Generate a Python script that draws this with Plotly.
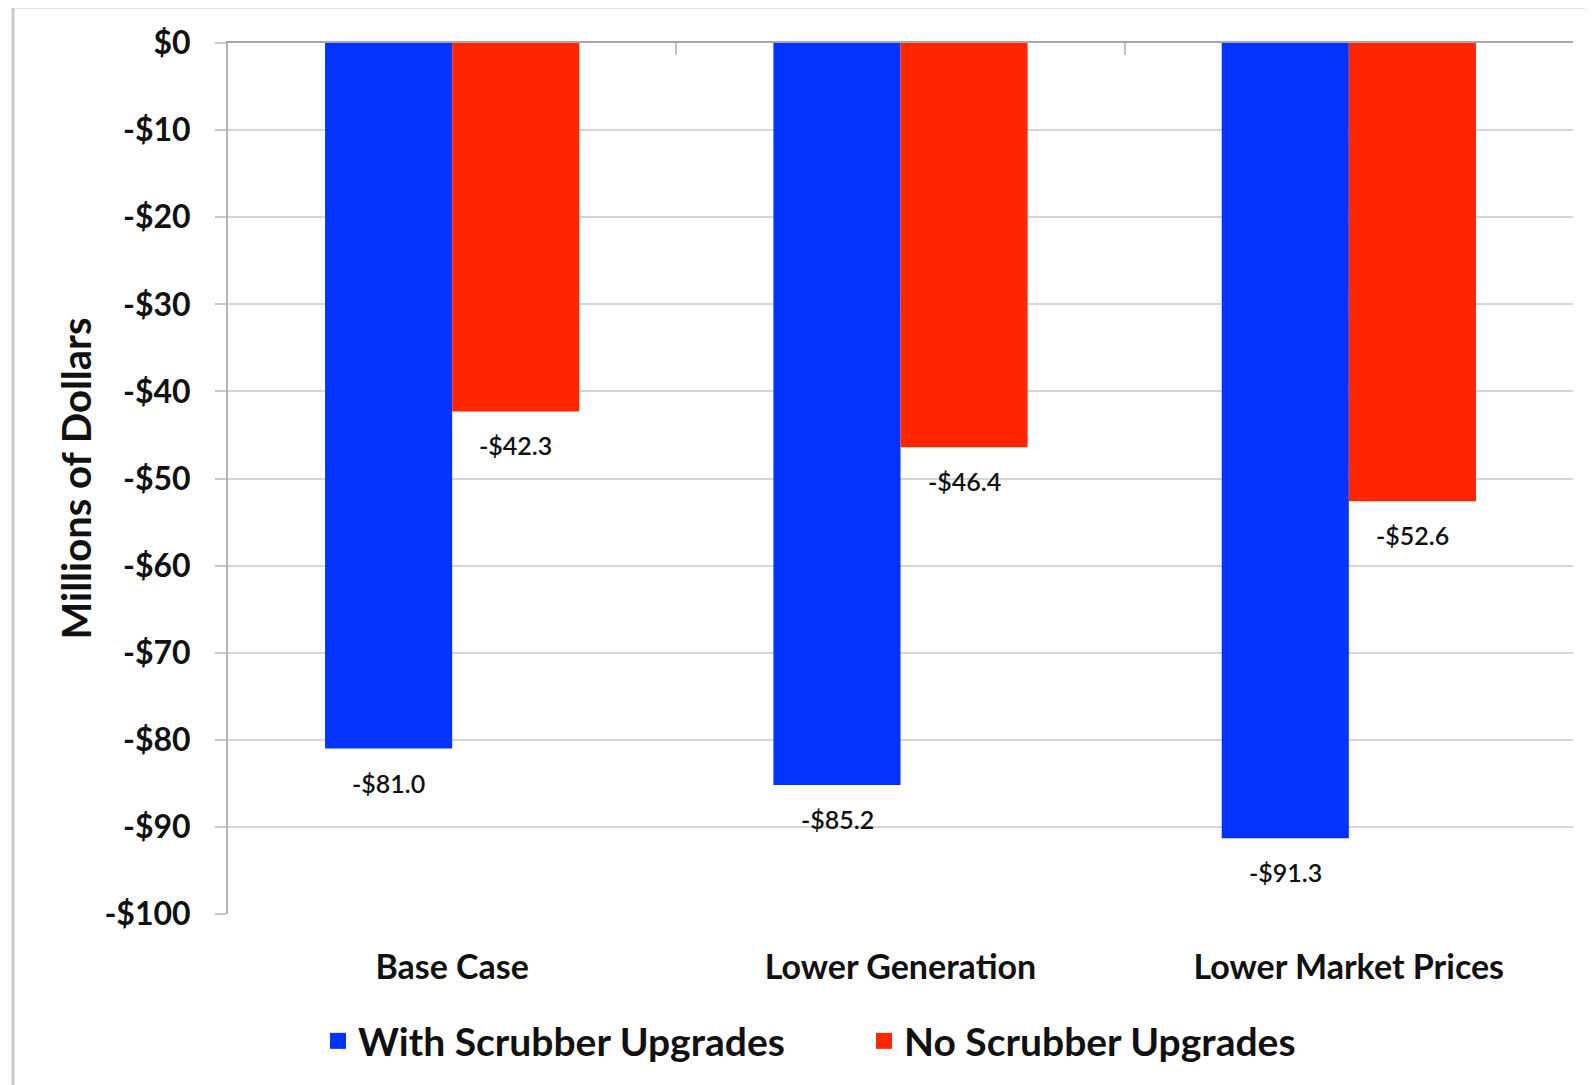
import plotly.graph_objects as go

categories = ["Base Case", "Lower Generation", "Lower Market Prices"]
with_scrubber = [-81.0, -85.2, -91.3]
no_scrubber = [-42.3, -46.4, -52.6]
series_names = ["With Scrubber Upgrades", "No Scrubber Upgrades"]
tick_values = [0, -10, -20, -30, -40, -50, -60, -70, -80, -90, -100]
tick_labels = ["$0", "-$10", "-$20", "-$30", "-$40", "-$50", "-$60", "-$70", "-$80", "-$90", "-$100"]

BLUE = "#0433ff"
RED = "#ff2600"
FONT = "Lato"

fig = go.Figure()
for name, vals, col in [(series_names[0], with_scrubber, BLUE), (series_names[1], no_scrubber, RED)]:
    fig.add_trace(go.Bar(x=categories, y=vals, name=name, marker=dict(color=col, line=dict(width=0)),
                         showlegend=False))
# legend entries
for name, col in [(series_names[0], BLUE), (series_names[1], RED)]:
    fig.add_trace(go.Scatter(x=[None], y=[None], mode="markers", name=name,
                             marker=dict(symbol="square", size=22, color=col)))

def money(v):
    return ("-" if v < 0 else "") + "$" + f"{abs(v):.1f}"

annotations = []
for vals, shift in [(with_scrubber, -63.5), (no_scrubber, 63.5)]:
    for c, v in zip(categories, vals):
        annotations.append(dict(x=c, y=v, xref="x", yref="y", text=money(v), showarrow=False,
                                xshift=shift, yshift=-34,
                                font=dict(family=FONT, size=25, color="#111111", weight=600)))

OFF = 8  # page body margin
L, R, T, B = 220, 20, 35, 171
pw, ph = 1345, 871
W, H = L + pw + R, T + ph + B

fig.update_layout(
    width=W, height=H,
    margin=dict(l=L, r=R, t=T, b=B, pad=0),
    paper_bgcolor="white", plot_bgcolor="white",
    barmode="group", bargap=0.433, bargroupgap=0,
    font=dict(family=FONT, color="#111111"),
    xaxis=dict(type="category", range=[-0.5, 2.5], showgrid=False, showline=False, ticks="",
               zeroline=False, tickfont=dict(family=FONT, size=34, weight="bold", color="#111111"),
               ticklabelstandoff=30),
    xaxis2=dict(overlaying="x", side="top", anchor="y", range=[-0.5, 2.5], showgrid=False,
                showline=True, linecolor="#a8a8a8", linewidth=2, ticks="inside", ticklen=12,
                tickwidth=2, tickcolor="#c0c0c0", tickvals=[-0.5, 0.5, 1.5, 2.5],
                showticklabels=False, zeroline=False),
    yaxis=dict(range=[-100, 0], tickvals=tick_values, ticktext=tick_labels, showgrid=True,
               gridcolor="#d6d6d6", gridwidth=2, showline=True, linecolor="#b4b4b4", linewidth=2,
               ticks="outside", ticklen=11, tickwidth=2, tickcolor="#c8c8c8", zeroline=False,
               tickfont=dict(family=FONT, size=32, weight="bold", color="#111111"),
               ticklabelstandoff=18,
               title=dict(text="Millions of Dollars", standoff=0,
                          font=dict(family=FONT, size=40, weight="bold", color="#111111"))),
    legend=dict(orientation="h", x=(318 - OFF - L) / pw, xanchor="left",
                y=-(1041 - OFF - (T + ph)) / ph,
                yanchor="middle", font=dict(family=FONT, size=39, weight="bold", color="#111111"),
                entrywidth=501, bgcolor="rgba(0,0,0,0)"),
    annotations=annotations,
    shapes=[dict(type="rect", xref="paper", yref="paper", x0=(13 - OFF - L) / pw, x1=1.1,
                 y0=-0.3, y1=1 + (T - (7 - OFF)) / ph, line=dict(color="#c8c8c8", width=3),
                 fillcolor="rgba(0,0,0,0)", layer="below")],
)
# invisible trace so that xaxis2 is drawn
fig.add_trace(go.Scatter(x=[None], y=[None], xaxis="x2", showlegend=False, hoverinfo="skip"))

fig.write_html("out.html")
